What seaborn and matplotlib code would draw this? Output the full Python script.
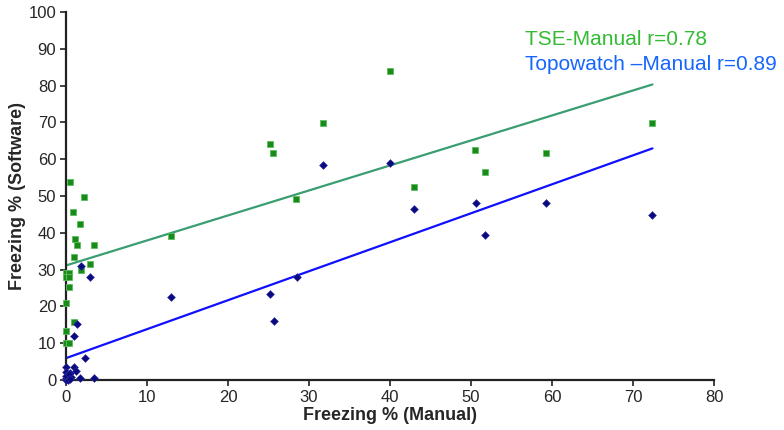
import matplotlib
matplotlib.use("Agg")
import matplotlib.pyplot as plt
import seaborn as sns
import numpy as np
import pandas as pd

# TSE vs Manual (green squares)
tse_manual = [0.5, 2.2, 0.9, 1.7, 1.1, 1.3, 3.5, 1.0, 3.0, 1.8, 0.0, 0.0, 0.4, 0.4, 0.4,
              0.0, 1.0, 0.0, 0.0, 0.4,
              13.0, 25.2, 25.6, 28.4, 31.7, 40.0, 43.0, 50.5, 51.7, 59.2, 72.4]
tse_software = [53.8, 49.8, 45.7, 42.5, 38.2, 36.6, 36.6, 33.3, 31.5, 30.0, 29.0, 28.0, 29.0, 28.0, 25.2,
                20.8, 15.8, 13.3, 10.0, 10.0,
                39.1, 64.0, 61.6, 49.1, 69.9, 84.0, 52.4, 62.4, 56.6, 61.6, 69.9]

# Topowatch vs Manual (navy diamonds)
topo_manual = [1.8, 3.0, 1.4, 1.0, 2.35, 0.0, 1.0, 1.2, 0.0, 0.5, 0.3, 0.6, 0.0, 1.7, 3.5,
               0.0, 0.0, 0.2, 0.4, 0.5,
               13.0, 25.2, 25.7, 28.5, 31.7, 40.0, 43.0, 50.6, 51.7, 59.2, 72.4]
topo_software = [31.0, 28.1, 15.3, 12.0, 5.9, 3.6, 3.4, 2.5, 2.3, 1.8, 0.9, 0.9, 0.5, 0.5, 0.5,
                 0.0, 1.2, 0.0, 1.5, 0.3,
                 22.5, 23.3, 16.1, 28.0, 58.5, 59.1, 46.6, 48.0, 39.3, 48.2, 44.8]

labels = ["TSE-Manual r=0.78", "Topowatch \u2013Manual r=0.89"]
x_ticks = [0, 10, 20, 30, 40, 50, 60, 70, 80]
y_ticks = [0, 10, 20, 30, 40, 50, 60, 70, 80, 90, 100]

sns.set_style("white")
plt.rcParams['font.family'] = ['Liberation Sans', 'DejaVu Sans']

fig = plt.figure(figsize=(7.84, 4.30), dpi=100)
ax = fig.add_axes([66/784, 50/430, 648/784, 368/430])

df_tse = pd.DataFrame({"m": tse_manual, "s": tse_software})
df_topo = pd.DataFrame({"m": topo_manual, "s": topo_software})

sns.regplot(data=df_tse, x="m", y="s", scatter=False, ci=None, truncate=True,
            line_kws=dict(color="#3a9e72", lw=1.6), ax=ax)
sns.regplot(data=df_topo, x="m", y="s", scatter=False, ci=None, truncate=True,
            line_kws=dict(color="#1010ff", lw=1.6), ax=ax)

sns.scatterplot(data=df_tse, x="m", y="s", marker="s", s=18, color="#1a8a1a",
                edgecolor="#5cbf5c", linewidth=0.6, ax=ax, zorder=4, clip_on=False)
sns.scatterplot(data=df_topo, x="m", y="s", marker="D", s=16, color="#0a0a80",
                edgecolor="#3030a0", linewidth=0.4, ax=ax, zorder=5, clip_on=False)

ax.set_xlim(0, 80)
ax.set_ylim(0, 100)
ax.set_xticks(x_ticks)
ax.set_yticks(y_ticks)
ax.tick_params(axis="both", which="both", direction="out", length=4, width=1.2,
               color="#222222", labelsize=12, pad=3, left=True, bottom=True)
for sp in ["top", "right"]:
    ax.spines[sp].set_visible(False)
for sp in ["left", "bottom"]:
    ax.spines[sp].set_color("#222222")
    ax.spines[sp].set_linewidth(1.6)

ax.set_xlabel("Freezing % (Manual)", fontsize=13, fontweight="bold", labelpad=2)
ax.set_ylabel("Freezing % (Software)", fontsize=13, fontweight="bold", labelpad=2)

ax.text(0.708, 0.925, labels[0], transform=ax.transAxes, color="#33bb33",
        fontsize=15, va="center", ha="left")
ax.text(0.708, 0.857, labels[1], transform=ax.transAxes, color="#1565ff",
        fontsize=15, va="center", ha="left")

fig.savefig("out.png", dpi=100)
